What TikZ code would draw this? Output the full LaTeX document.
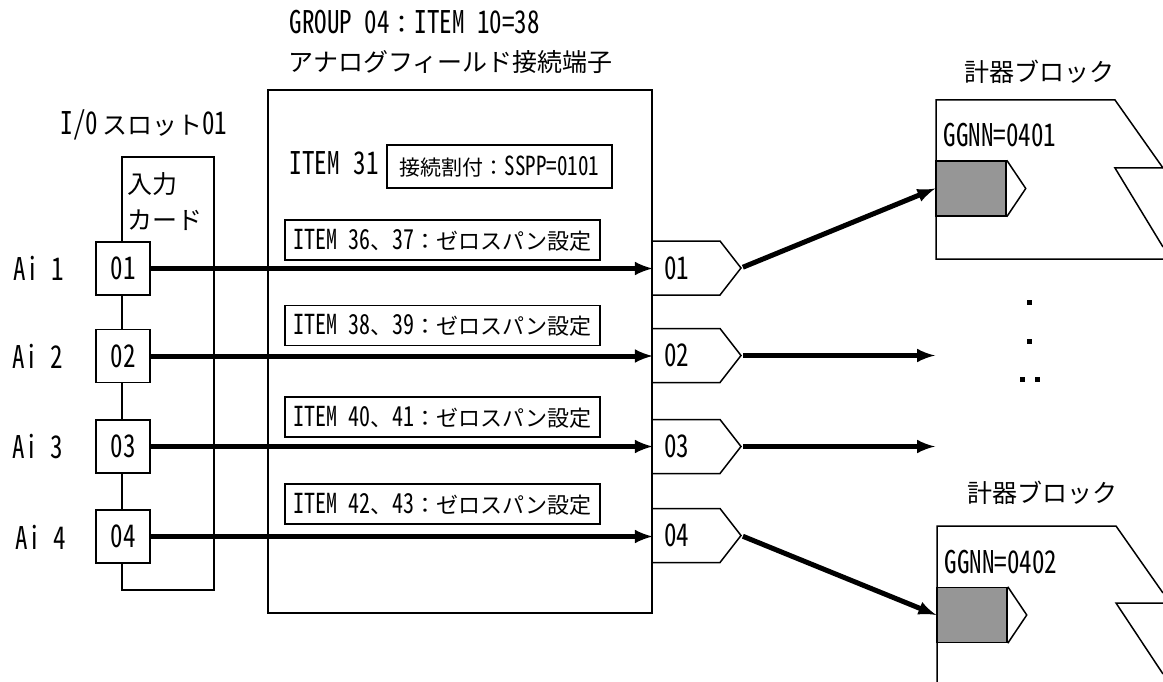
\documentclass[tikz,border=0pt]{standalone}
\usepackage{fontspec}
\setmainfont{Noto Sans CJK JP}
\newfontfamily\hw[RawFeature=+hwid, Scale=1.25, FakeStretch=0.8]{Noto Sans CJK JP}
\usetikzlibrary{arrows}

\begin{document}
\begin{tikzpicture}[x=1pt, y=-1pt, line width=1.5pt,
    txt/.style={font=\fontsize{25}{30}\selectfont, inner sep=0pt},
    slot/.style={rectangle, draw, fill=white, minimum width=54pt, minimum height=53pt, font=\fontsize{25}{28}\selectfont},
    setbox/.style={rectangle, draw, minimum width=315pt, minimum height=40pt, inner sep=0pt, font=\fontsize{22}{26}\selectfont},
    term/.style={rectangle, outer sep=0pt, minimum height=54pt, text width=44pt, inner xsep=12pt, align=left, font=\fontsize{25}{28}\selectfont},
    port/.style={rectangle, draw, fill=black!41, minimum width=70pt, minimum height=55pt},
    arrow/.style={-latex, line width=5pt}
]
    \useasboundingbox (0,0) rectangle (1163,682);
    \fill[white] (0,0) rectangle (1163,682);

    % I/O slot and input card
    \node[txt, anchor=west] (slotlbl) at (60,125) {{\hw I/0}\,スロット{\hw 01}};
    \node[rectangle, draw, minimum width=92pt, minimum height=433pt] (card) at (168,373.5) {};
    \node[txt, anchor=north west, align=left, font=\fontsize{25}{36}\selectfont] (cardlbl) at (127,172) {入力\\カード};
    \node[slot] (s1) at (123,268.5) {\hw 01};
    \node[slot] (s2) at (123,356) {\hw 02};
    \node[slot] (s3) at (123,446.5) {\hw 03};
    \node[slot] (s4) at (123,536.5) {\hw 04};
    \node[txt, anchor=west] (ai1) at (13,268) {\hw Ai 1};
    \node[txt, anchor=west] (ai2) at (12,356) {\hw Ai 2};
    \node[txt, anchor=west] (ai3) at (12,447) {\hw Ai 3};
    \node[txt, anchor=west] (ai4) at (15,537) {\hw Ai 4};

    % Analog field terminals
    \node[txt, anchor=west] (grp) at (289,22) {{\hw GROUP 04}：{\hw ITEM 10=38}};
    \node[txt, anchor=west] (fieldlbl) at (288,62) {アナログフィールド接続端子};
    \node[rectangle, draw, minimum width=384pt, minimum height=523pt] (field) at (460,351.5) {};
    \node[txt, anchor=west] (item31) at (289,163) {{\hw ITEM}\hspace{14pt}{\hw 31}};
    \node[setbox, minimum width=225pt, minimum height=43pt, font=\fontsize{21}{24}\selectfont] (alloc) at (499.5,166.5) {接続割付：{\hw SSPP=0101}};
    \node[setbox] (z1) at (442.5,240) {{\hw ITEM 36}、{\hw 37}：ゼロスパン設定};
    \node[setbox] (z2) at (442.5,325.5) {{\hw ITEM 38}、{\hw 39}：ゼロスパン設定};
    \node[setbox] (z3) at (442.5,417) {{\hw ITEM 40}、{\hw 41}：ゼロスパン設定};
    \node[setbox] (z4) at (442.5,504) {{\hw ITEM 42}、{\hw 43}：ゼロスパン設定};

    \node[term] (t1) at (686,268) {\hw 01};
    \node[term] (t2) at (686,355.5) {\hw 02};
    \node[term] (t3) at (686,446.5) {\hw 03};
    \node[term] (t4) at (686,535.5) {\hw 04};
    \draw (t1.north west) -- (t1.north east) -- ([xshift=21pt]t1.east) coordinate (t1tip) -- (t1.south east) -- (t1.south west);
    \draw (t2.north west) -- (t2.north east) -- ([xshift=21pt]t2.east) coordinate (t2tip) -- (t2.south east) -- (t2.south west);
    \draw (t3.north west) -- (t3.north east) -- ([xshift=21pt]t3.east) coordinate (t3tip) -- (t3.south east) -- (t3.south west);
    \draw (t4.north west) -- (t4.north east) -- ([xshift=21pt]t4.east) coordinate (t4tip) -- (t4.south east) -- (t4.south west);

    % Instrument blocks
    \node[txt] (blk1lbl) at (1039,72) {計器ブロック};
    \draw (1163,168) -- (1115,100) -- (936,100) -- (936,259) -- (1163,259);
    \draw (1163,247) -- (1115,168) -- (1163,168);
    \node[port] (p1) at (971,188.5) {};
    \draw (p1.north east) -- ([xshift=19pt]p1.east) -- (p1.south east);
    \node[txt, anchor=west] (gg1) at (943,135) {\hw GGNN=0401};

    \node[txt] (blk2lbl) at (1042,493) {計器ブロック};
    \draw (1163,593) -- (1116,526) -- (937,526) -- (937,682);
    \draw (1163,674) -- (1116,603) -- (1163,603);
    \node[port] (p2) at (972,615) {};
    \draw (p2.north east) -- ([xshift=19pt]p2.east) -- (p2.south east);
    \node[txt, anchor=west] (gg2) at (944,562) {\hw GGNN=0402};

    \fill (1026.5,299.5) rectangle ++(5,5);
    \fill (1026.5,338.5) rectangle ++(5,5);
    \fill (1019.5,376.5) rectangle ++(5,5);
    \fill (1034.5,376.5) rectangle ++(5,5);

    % Arrows
    \coordinate (e2) at (935,355.5);
    \coordinate (e3) at (935,446.5);
    \draw[arrow] (s1.east) -- (s1.east -| field.east);
    \draw[arrow] (s2.east) -- (s2.east -| field.east);
    \draw[arrow] (s3.east) -- (s3.east -| field.east);
    \draw[arrow] (s4.east) -- (s4.east -| field.east);
    \draw[arrow, shorten <=2pt] (t1tip) -- (p1.west);
    \draw[arrow, shorten <=2pt] (t2tip) -- (e2);
    \draw[arrow, shorten <=2pt] (t3tip) -- (e3);
    \draw[arrow, shorten <=2pt] (t4tip) -- (p2.west);

\end{tikzpicture}
\end{document}
